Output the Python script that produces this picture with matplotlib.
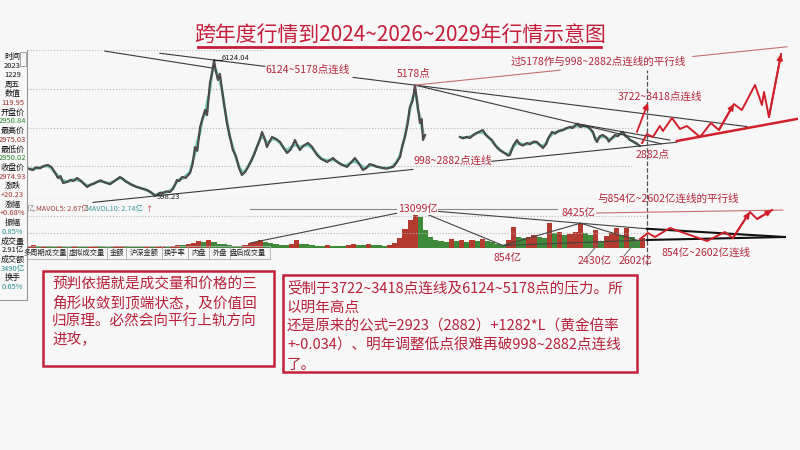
import numpy as np
import matplotlib.pyplot as plt
from matplotlib.patches import Rectangle
from matplotlib.lines import Line2D

plt.rcParams['font.family'] = ['Noto Sans CJK SC', 'DejaVu Sans']

# ---------------- data ----------------
title = '跨年度行情到2024~2026~2029年行情示意图'

# index closes, first block 2000-2015
t1 = [2000.40, 2000.52, 2000.63, 2000.75, 2000.90, 2001.05, 2001.21, 2001.35, 2001.49, 2001.60,
      2001.70, 2001.80, 2001.95, 2002.10, 2002.20, 2002.34, 2002.50, 2002.62, 2002.73, 2002.85,
      2003.00, 2003.11, 2003.25, 2003.38, 2003.50, 2003.62, 2003.75, 2003.88, 2004.00, 2004.10,
      2004.20, 2004.28, 2004.40, 2004.55, 2004.66, 2004.80, 2004.95, 2005.05, 2005.18, 2005.28,
      2005.36, 2005.45, 2005.55, 2005.67, 2005.80, 2005.94, 2006.05, 2006.15, 2006.21, 2006.30,
      2006.41, 2006.55, 2006.72, 2006.82, 2006.91, 2007.00, 2007.11, 2007.20, 2007.30, 2007.38,
      2007.49, 2007.57, 2007.65, 2007.72, 2007.80, 2007.88, 2007.96, 2008.05, 2008.15, 2008.25,
      2008.38, 2008.50, 2008.62, 2008.73, 2008.85, 2008.97, 2009.10, 2009.20, 2009.31, 2009.42,
      2009.51, 2009.60, 2009.70, 2009.80, 2009.90, 2010.05, 2010.21, 2010.35, 2010.48, 2010.62,
      2010.79, 2010.88, 2010.98, 2011.12, 2011.29, 2011.45, 2011.64, 2011.80, 2012.03, 2012.15,
      2012.26, 2012.40, 2012.55, 2012.68, 2012.80, 2012.95, 2013.11, 2013.25, 2013.42, 2013.55,
      2013.68, 2013.81, 2013.95, 2014.08, 2014.20, 2014.35, 2014.50, 2014.59, 2014.72, 2014.86,
      2014.95, 2015.05, 2015.15, 2015.24, 2015.35, 2015.44, 2015.50, 2015.55, 2015.63, 2015.70,
      2015.75, 2015.83]
p1 = [2054, 2010, 1978, 2080, 2040, 2130, 2167, 2090, 1865, 1677,
      1750, 1488, 1526, 1610, 1560, 1677, 1560, 1450, 1337, 1420,
      1470, 1526, 1590, 1520, 1488, 1440, 1540, 1620, 1714, 1660,
      1560, 1526, 1450, 1380, 1337, 1300, 1250, 1224, 1150, 1080,
      998, 1050, 1120, 1111, 1170, 1149, 1260, 1450, 1601, 1560,
      1714, 1680, 1865, 2200, 2845, 2700, 3599, 3900, 4240, 4050,
      5258, 5600, 6124, 5700, 5371, 5600, 4994, 4400, 3750, 3300,
      2732, 2500, 2050, 1790, 1900, 2091, 2350, 2550, 2845, 3100,
      3411, 3200, 2845, 3050, 3222, 3150, 3034, 2800, 2619, 2750,
      3109, 2900, 2732, 2900, 2996, 2850, 2544, 2400, 2280, 2350,
      2431, 2300, 2200, 2150, 2091, 2250, 2431, 2250, 1978, 2050,
      2200, 2167, 2100, 2080, 2054, 2030, 2080, 2091, 2250, 2468,
      2900, 3222, 3700, 4353, 4600, 5178, 4700, 4353, 3750, 3900,
      3109, 3298]

# second block 2017-2023
t2 = [2017.18, 2017.30, 2017.45, 2017.57, 2017.70, 2017.85, 2018.07, 2018.18, 2018.30, 2018.42,
      2018.55, 2018.65, 2018.73, 2018.85, 2018.95, 2019.05, 2019.12, 2019.25, 2019.39, 2019.50,
      2019.62, 2019.78, 2019.90, 2020.05, 2020.17, 2020.30, 2020.40, 2020.52, 2020.62, 2020.75,
      2020.88, 2021.00, 2021.18, 2021.30, 2021.45, 2021.55, 2021.72, 2021.85, 2021.98, 2022.11,
      2022.22, 2022.34, 2022.42, 2022.49, 2022.60, 2022.72, 2022.88, 2022.95, 2023.05, 2023.19,
      2023.30, 2023.40, 2023.50, 2023.60, 2023.70, 2023.77, 2023.90, 2024.03, 2024.16]
p2 = [3222, 3170, 3230, 3185, 3300, 3380, 3486, 3300, 3200, 3109,
      2900, 2800, 2732, 2650, 2600, 2520, 2544, 2900, 3109, 2950,
      2900, 2996, 2950, 3050, 3034, 2900, 2808, 2950, 3200, 3411,
      3350, 3450, 3486, 3550, 3600, 3560, 3722, 3600, 3650, 3620,
      3550, 3411, 3150, 3034, 3250, 3300, 3185, 3050, 3150, 3300,
      3250, 3350, 3418, 3250, 3200, 3109, 3050, 2970, 2882]

# projected path 2024-2029
proj_t = [2024.24, 2024.43, 2024.66, 2024.93, 2025.05, 2025.40, 2025.71, 2025.98, 2026.49,
          2026.91, 2027.22, 2027.80, 2028.11, 2028.62, 2028.89, 2028.97, 2029.16, 2029.63]
proj_p = [2996, 3335, 3222, 3637, 3449, 3939, 3524, 3637, 3222,
          3750, 3486, 4466, 4240, 5183, 4429, 4919, 3976, 6351]
brk_t = [2024.04, 2024.47]
brk_p = [3411, 4504]
sup_t = [2025.59, 2030.24]
sup_p = [3072, 3901]
guide_t = [2003.42, 2007.60]
guide_p = [6460, 5820]

# turnover (亿)
vol = [700, 900, 650,
       800, 600, 500, 750, 500,
       450, 650, 450, 400, 420,
       650, 550, 450, 400, 550,
       800, 550, 400, 380, 350,
       400, 350, 420, 550, 480,
       750, 1100, 900, 1300, 1700,
       2300, 2000, 2600, 2200, 1500,
       1400, 1100, 800, 700, 1000,
       1700, 2200, 2600, 1900, 1800,
       1300, 1100, 900, 1400, 2700,
       1300, 1200, 900, 800, 750,
       1000, 850, 700, 650, 1100,
       1500, 1000, 900, 1300, 1100,
       900, 850, 1100, 1700, 3400,
       6500, 9500, 13099, 10500, 6000,
       3700, 2700, 2400, 2200, 2900,
       2300, 2600, 2000, 2800, 2500,
       3200, 2400, 1900, 1500, 854,
       2600, 7100, 3900, 3400, 3600,
       4400, 3700, 3500, 8500, 5000,
       5400, 4300, 4800, 5600, 8425,
       5200, 4500, 6100, 2430, 4200,
       5000, 6800, 4300, 6800, 3700,
       2602, 3400]
vol_t = np.round(2000.45 + 0.2 * np.arange(len(vol)), 2)

vproj_t = [2024.16, 2024.47, 2024.74, 2025.32, 2026.76, 2027.45, 2027.76, 2028.42, 2028.70, 2029.28]
vproj_v = [3060, 5100, 3740, 6800, 2380, 5440, 3400, 12240, 9860, 12920]
vtip = (2029.78, 3740)
vstart = (2009.05, 1700)
vpar_t = [2022.49, 2029.70]
vpar_v = [11900, 12900]

price_grid = [5030, 3562, 2129]
vol_grid = [10880, 5100]
cursor_t = 2024.43

panel_labels = ['时间', '2023', '1229', '周五', '数值', '119.95', '开盘价', '2950.84', '最高价',
                '2975.03', '最低价', '2950.02', '收盘价', '2974.93', '涨跌', '+20.23', '涨幅',
                '+0.68%', '振幅', '0.85%', '成交量', '2.91亿', '成交额', '3490亿', '换手', '0.65%']
panel_colors = ['#111', '#111', '#111', '#111', '#111', '#a03030', '#111', '#2a8a2a', '#111',
                '#a03030', '#111', '#2a8a2a', '#111', '#a03030', '#111', '#a03030', '#111',
                '#a03030', '#111', '#2a9090', '#111', '#111', '#111', '#2a9090', '#111', '#2a9090']
tabs = ['多周期成交量', '虚拟成交量', '金额', '沪深金额', '换手率', '内盘', '外盘', '盘后成交量']

box1 = ['预判依据就是成交量和价格的三', '角形收敛到顶端状态，及价值回',
        '归原理。必然会向平行上轨方向', '进攻，']
box2 = ['受制于3722~3418点连线及6124~5178点的压力。所', '以明年高点',
        '还是原来的公式=2923（2882）+1282*L（黄金倍率',
        '+-0.034）、明年调整低点很难再破998~2882点连线', '了。']

# ---------------- styles ----------------
BG = '#f7f7f7'
RED = '#d0202a'
LAB = '#b5283c'
LINE = '#3a3a3a'

fig = plt.figure(figsize=(8, 4.5), dpi=100)
fig.patch.set_facecolor(BG)


def fx(px):
    return px / 800


def fy(py):
    return 1 - py / 450


x0, x1 = 2000.4, 2030.17
ax = fig.add_axes([fx(27), fy(199), fx(795) - fx(27), 149 / 450])
ax.set_xlim(x0, x1)
ax.set_ylim(885, 6502)
ax.axis('off')
axv = fig.add_axes([fx(27), fy(248), fx(795) - fx(27), 48 / 450])
axv.set_xlim(x0, x1)
axv.set_ylim(0, 16320)
axv.axis('off')


def through(a, b, ts):
    k = (b[1] - a[1]) / (b[0] - a[0])
    return [a[1] + k * (t - a[0]) for t in ts]


def arrow(axis, a, b, lw=1.4):
    axis.annotate('', xy=b, xytext=a, annotation_clip=False,
                  arrowprops=dict(arrowstyle='-|>', color=RED, lw=lw, mutation_scale=8,
                                  shrinkA=0, shrinkB=0))


# grid
ax.hlines(price_grid, x0, 2023.9, colors='#b8b8b8', linestyles=':', lw=0.8)
ax.hlines(6502, x0, 2009.6, colors='#b8b8b8', linestyles=':', lw=0.8)
ax.hlines(885, x0, 2024.4, colors='#9a9a9a', lw=0.8)
axv.hlines(vol_grid, x0, 2024.4, colors='#b8b8b8', linestyles=':', lw=0.8)

# price blocks with a short moving average
for t, p in ((t1, p1), (t2, p2)):
    t = np.array(t)
    p = np.array(p)
    ma = np.convolve(p, np.ones(3) / 3, mode='valid')
    ax.plot(t[1:-1], ma, color='#7cc4b8', lw=2.0)
    ax.plot(t, p, color='#26463a', lw=1.5)
    ax.plot(t, p, color='#b04a6a', lw=0.4, alpha=0.8)

t1a, p1a, t2a, p2a = map(np.array, (t1, p1, t2, p2))
pk1 = (t1a[np.argmax(p1a)], p1a.max())
m = t1a > 2012
pk2 = (t1a[m][np.argmax(p1a[m])], p1a[m].max())
lo1 = (t1a[np.argmin(p1a)], p1a.min())
lo2 = (t2a[-1], p2a[-1])
hi1 = (t2a[np.argmax(p2a)], p2a.max())
m = t2a > 2023
hi2 = (t2a[m][np.argmax(p2a[m])], p2a[m].max())

kw = dict(color=LINE, lw=0.8, clip_on=False)
for seg in ([2005.55, 2009.62], [2013.04, 2028.31]):
    ax.plot(seg, through(pk1, pk2, seg), **kw)
ax.plot(guide_t, guide_p, **kw)
# 5178 -> 3722 line stops where it meets the 998~2882 line
kb = (hi1[1] - pk2[1]) / (hi1[0] - pk2[0])
kd = (lo2[1] - lo1[1]) / (lo2[0] - lo1[0])
tx = (lo1[1] - pk2[1] + kb * pk2[0] - kd * lo1[0]) / (kb - kd)
ax.plot([pk2[0], tx], through(pk2, hi1, [pk2[0], tx]), **kw)
ax.plot([hi1[0], 2025.32], through(hi1, hi2, [hi1[0], 2025.32]), **kw)
for seg in ([2002.96, 2015.36], [2018.42, 2025.59]):
    ax.plot(seg, through(lo1, lo2, seg), **kw)
par_b = (pk2[0] + 1, pk2[1] + kd)
for seg in ([pk2[0], 2021.06], [2026.21, 2029.86]):
    ax.plot(seg, through(pk2, par_b, seg), color='#c87070', lw=0.8, clip_on=False)
ax.plot([pk1[0], pk1[0] + 0.3], [pk1[1], pk1[1]], color='#222', lw=0.9)

# projections in price panel
ax.plot(proj_t, proj_p, color=RED, lw=1.4, clip_on=False)
arrow(ax, (proj_t[10], proj_p[10]), (proj_t[11], proj_p[11]))
arrow(ax, (proj_t[-2], proj_p[-2]), (proj_t[-1], proj_p[-1]))
arrow(ax, (brk_t[0], brk_p[0]), (brk_t[1], brk_p[1]), lw=1.3)
ax.plot(sup_t, sup_p, color=RED, lw=1.8, clip_on=False)
ax.axvline(cursor_t, ymin=-0.443, ymax=0.866, color='#555', ls='--', lw=0.9, clip_on=False)

# volume bars
vol_a = np.array(vol)
up = np.r_[True, vol_a[1:] >= vol_a[:-1]]
axv.bar(vol_t, vol_a, width=0.2, color=np.where(up, '#b23a2e', '#3f8a3a'), linewidth=0)

vi = {v: (vol_t[i], v) for i, v in enumerate(vol)}
v13, v854, v8425, v2602 = vi[13099], vi[854], vi[8425], vi[2602]
kw = dict(color='#444', lw=0.8, clip_on=False)
axv.plot([vstart[0], v13[0]], [vstart[1], v13[1]], **kw)
axv.plot([v13[0], v854[0]], [v13[1], v854[1]], **kw)
axv.plot([v854[0], v8425[0]], [v854[1], v8425[1]], **kw)
axv.plot([v8425[0], v2602[0]], [v8425[1], v2602[1]], **kw)
up_c = through(v13, v8425, [cursor_t])[0]
lo_c = through(v854, v2602, [cursor_t])[0]
axv.plot([v13[0], cursor_t], [v13[1], up_c], **kw)
axv.plot([v854[0], cursor_t], [v854[1], lo_c], **kw)
axv.plot([cursor_t, vtip[0]], [up_c, vtip[1]], color='#111', lw=1.5, clip_on=False)
axv.plot([cursor_t, vtip[0]], [lo_c, vtip[1]], color='#111', lw=1.5, clip_on=False)
axv.plot([vstart[0], 2020.94], [13099, 13099], color='#888', lw=0.8, clip_on=False)
axv.plot(vpar_t, vpar_v, color='#c87070', lw=0.8, clip_on=False)
axv.plot(vproj_t, vproj_v, color=RED, lw=1.4, clip_on=False)
arrow(axv, (vproj_t[6], vproj_v[6]), (vproj_t[7], vproj_v[7]))
arrow(axv, (vproj_t[-2], vproj_v[-2]), (vproj_t[-1], vproj_v[-1]))
for v, px, py in ((2430, 588, 256), (2602, 624, 256)):
    axv.annotate('', xy=vi[v], xytext=(fx(px), fy(py)), textcoords='figure fraction',
                 arrowprops=dict(arrowstyle='-', color='#666', lw=0.7, shrinkA=0, shrinkB=0),
                 annotation_clip=False)

# ---------------- text ----------------
fig.text(fx(400), fy(35), title, ha='center', va='center', fontsize=15, color='#c41e3a')
fig.add_artist(Line2D([fx(198), fx(601)], [fy(47), fy(47)], color='#c41e3a', lw=2))

lab = dict(color=LAB, fontsize=7.6, va='center', ha='left')
bb = dict(facecolor=BG, edgecolor='none', pad=0.4)
fig.text(fx(265), fy(70), '6124~5178点连线', **lab)
fig.text(fx(397), fy(73), '5178点', **lab)
fig.text(fx(511), fy(62), '过5178作与998~2882点连线的平行线', **lab)
fig.text(fx(618), fy(97), '3722~3418点连线', **lab)
fig.text(fx(413), fy(161), '998~2882点连线', **lab)
fig.text(fx(636), fy(154), '2882点', **lab)
fig.text(fx(398), fy(209), '13099亿', bbox=bb, **lab)
fig.text(fx(561), fy(213), '8425亿', **lab)
fig.text(fx(597), fy(199), '与854亿~2602亿连线的平行线', **lab)
fig.text(fx(493), fy(258), '854亿', **lab)
fig.text(fx(578), fy(261), '2430亿', **lab)
fig.text(fx(619), fy(261), '2602亿', **lab)
fig.text(fx(661), fy(253), '854亿~2602亿连线', **lab)
fig.text(fx(222), fy(58), '6124.04', fontsize=5.5, color='#222', va='center')
fig.text(fx(157), fy(197), '998.23', fontsize=5.5, color='#222', va='center')

# left info panel
for i, (s, c) in enumerate(zip(panel_labels, panel_colors)):
    fig.text(fx(12.5), fy(57 + 9.2 * i), s, fontsize=5.8 if i % 2 == 0 and not s[0].isdigit() else 5.4,
             color=c, ha='center', va='center')
fig.add_artist(Line2D([fx(27), fx(27)], [fy(50), fy(300)], color='#999', lw=0.8))
fig.add_artist(Line2D([0, fx(27)], [fy(300), fy(300)], color='#999', lw=0.8))
fig.add_artist(Rectangle((fx(20), fy(66)), fx(6), 14 / 450, fill=False, ec='#999', lw=0.6))

# volume header and tabs
fig.text(fx(27), fy(209), '亿,', fontsize=5.2, color='#888', va='center')
fig.text(fx(36), fy(209), 'MAVOL5: 2.67亿', fontsize=5.2, color='#a04040', va='center')
fig.text(fx(86), fy(209), 'MAVOL10: 2.74亿', fontsize=5.2, color='#3a9a9a', va='center')
fig.text(fx(145), fy(209), '↑', fontsize=5.2, color='#c03030', va='center')
fig.add_artist(Rectangle((fx(27), fy(259)), fx(270) - fx(27), 13 / 450, fill=False, ec='#aaa', lw=0.6))
tab_x = [45, 87, 117, 144, 175, 199, 220, 248]
for s, x in zip(tabs, tab_x):
    fig.text(fx(x), fy(253), s, fontsize=5.2, color='#222', ha='center', va='center')
for x in (67, 107, 126, 162, 188, 209, 230):
    fig.add_artist(Line2D([fx(x), fx(x)], [fy(247), fy(259)], color='#aaa', lw=0.6))

# note boxes
BOX = '#c4203a'
fig.add_artist(Rectangle((fx(43), fy(366)), fx(231), 95 / 450, fill=False, ec=BOX, lw=1.8))
for i, s in enumerate(box1):
    fig.text(fx(52), fy(284 + 18.7 * i), s, fontsize=10.5, color='#b8203a', va='center')
fig.add_artist(Rectangle((fx(283), fy(372)), fx(354), 97 / 450, fill=False, ec=BOX, lw=1.8))
for i, s in enumerate(box2):
    fig.text(fx(287), fy(288 + 19.3 * i), s, fontsize=10.5, color='#b8203a', va='center')

fig.savefig('out.png', dpi=100, facecolor=BG)
plt.close(fig)
